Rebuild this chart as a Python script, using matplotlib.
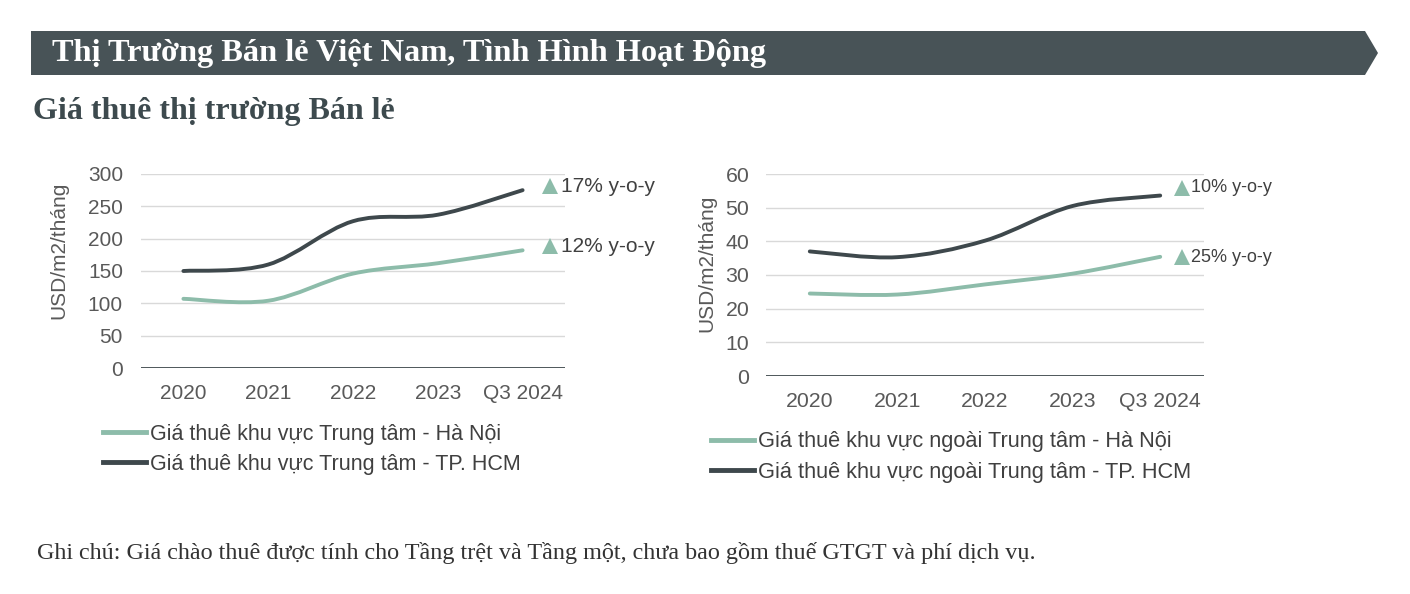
import matplotlib
matplotlib.use("Agg")
import matplotlib.pyplot as plt
from matplotlib.path import Path
from matplotlib.patches import PathPatch, Polygon
from matplotlib.lines import Line2D
import numpy as np

# ---------------- data ----------------
categories = ["2020", "2021", "2022", "2023", "Q3 2024"]
cbd_hanoi = [107, 104, 146, 162, 182]
cbd_hcm = [150, 160, 227, 237, 275]
noncbd_hanoi = [24.5, 24.2, 27.2, 30.4, 35.4]
noncbd_hcm = [37, 35.3, 40.2, 50.5, 53.6]
left_labels = ["Giá thuê khu vực Trung tâm - Hà Nội", "Giá thuê khu vực Trung tâm - TP. HCM"]
right_labels = ["Giá thuê khu vực ngoài Trung tâm - Hà Nội", "Giá thuê khu vực ngoài Trung tâm - TP. HCM"]
left_yoy = ["17% y-o-y", "12% y-o-y"]
right_yoy = ["10% y-o-y", "25% y-o-y"]
header = "Thị Trường Bán lẻ Việt Nam, Tình Hình Hoạt Động"
subtitle = "Giá thuê thị trường Bán lẻ"
note = "Ghi chú: Giá chào thuê được tính cho Tầng trệt và Tầng một, chưa bao gồm thuế GTGT và phí dịch vụ."
ylabel = "USD/m2/tháng"

GREEN = "#8dbcaa"
DARK = "#3e484c"
HEADER = "#485357"
TICK = "#595959"
TXT = "#404040"

W, H = 1410, 594
fig = plt.figure(figsize=(W / 100, H / 100), dpi=100)
fig.patch.set_facecolor("white")


def fx(x):
    return x / W


def fy(y):
    return 1 - y / H


# header banner
poly = Polygon([(fx(31), fy(31)), (fx(1365), fy(31)), (fx(1378), fy(53)),
                (fx(1365), fy(75)), (fx(31), fy(75))], closed=True,
               transform=fig.transFigure, facecolor=HEADER, edgecolor="none")
fig.patches.append(poly)
fig.text(fx(52), fy(53), header, color="white", fontsize=23.3, fontweight="bold",
         family="Liberation Serif", va="center", ha="left")
fig.text(fx(33), fy(112), subtitle, color="#3d4a4e", fontsize=23, fontweight="bold",
         family="Liberation Serif", va="center", ha="left")
fig.text(fx(37), fy(553), note, color="#333333", fontsize=17.4,
         family="Liberation Serif", va="center", ha="left")


def smooth_path(xs, ys):
    pts = np.column_stack([xs, ys]).astype(float)
    n = len(pts)
    verts = [pts[0]]
    codes = [Path.MOVETO]
    for i in range(n - 1):
        p0 = pts[i - 1] if i > 0 else pts[i]
        p1 = pts[i]
        p2 = pts[i + 1]
        p3 = pts[i + 2] if i + 2 < n else pts[i + 1]
        c1 = p1 + (p2 - p0) / 6.0
        c2 = p2 - (p3 - p1) / 6.0
        verts += [c1, c2, p2]
        codes += [Path.CURVE4] * 3
    return Path(verts, codes)


def draw_chart(rect, s1, s2, ymax, ystep, fs, ypad):
    ax = fig.add_axes(rect)
    x = np.arange(len(categories))
    for s, c in ((s1, GREEN), (s2, DARK)):
        ax.add_patch(PathPatch(smooth_path(x, s), facecolor="none", edgecolor=c,
                               lw=2.8, capstyle="round", zorder=3))
    ax.set_xlim(-0.5, len(categories) - 0.5)
    ax.set_ylim(0, ymax)
    ax.set_yticks(np.arange(0, ymax + 0.1, ystep))
    ax.set_xticks(x)
    ax.set_xticklabels(categories)
    ax.grid(axis="y", color="#d9d9d9", lw=1)
    ax.set_axisbelow(True)
    for sp in ax.spines.values():
        sp.set_visible(False)
    ax.axhline(0, color=DARK, lw=2, zorder=4)
    ax.tick_params(length=0, labelsize=fs, colors=TICK)
    ax.tick_params(axis="y", pad=ypad)
    ax.tick_params(axis="x", pad=11.5)
    for t in ax.get_xticklabels() + ax.get_yticklabels():
        t.set_family("Liberation Sans")
    ax.set_ylabel(ylabel, fontsize=15, color=TICK, family="Liberation Sans")
    return ax


axL = draw_chart([fx(141), fy(368), 424 / W, 194 / H],
                 cbd_hanoi, cbd_hcm, 300, 50, 15, 13)
axL.yaxis.set_label_coords(-0.172, 0.608)
axR = draw_chart([fx(766), fy(376), 438 / W, 202 / H],
                 noncbd_hanoi, noncbd_hcm, 60, 10, 15.3, 12)
axR.yaxis.set_label_coords(-0.114, 0.559)


# legends
def legend(labels, x, ymid, fs, hl):
    handles = [Line2D([], [], color=GREEN, lw=3.5), Line2D([], [], color=DARK, lw=3.5)]
    fig.legend(handles, labels, loc="center left", bbox_to_anchor=(fx(x), fy(ymid)),
               bbox_transform=fig.transFigure, frameon=False, handlelength=hl,
               handletextpad=0.2, labelspacing=0.42, borderaxespad=0, borderpad=0,
               prop={"family": "Liberation Sans", "size": fs}, labelcolor=TXT)


legend(left_labels, 103, 449.5, 15.5, 2.0)
legend(right_labels, 711, 457, 15.7, 1.95)


# y-o-y annotations
def yoy(xm, ym, xt, txt, fs):
    fig.add_artist(Line2D([fx(xm)], [fy(ym)], marker="^", ms=11, color=GREEN,
                          markeredgewidth=0, transform=fig.transFigure))
    fig.text(fx(xt), fy(ym), txt, color=TXT, fontsize=fs, va="center", ha="left",
             family="Liberation Sans")


yoy(550, 186, 561, left_yoy[0], 15)
yoy(550, 246, 561, left_yoy[1], 15)
yoy(1181.5, 188, 1191, right_yoy[0], 13)
yoy(1181.5, 257, 1191, right_yoy[1], 13)

fig.savefig("out.png", dpi=100, facecolor="white")
